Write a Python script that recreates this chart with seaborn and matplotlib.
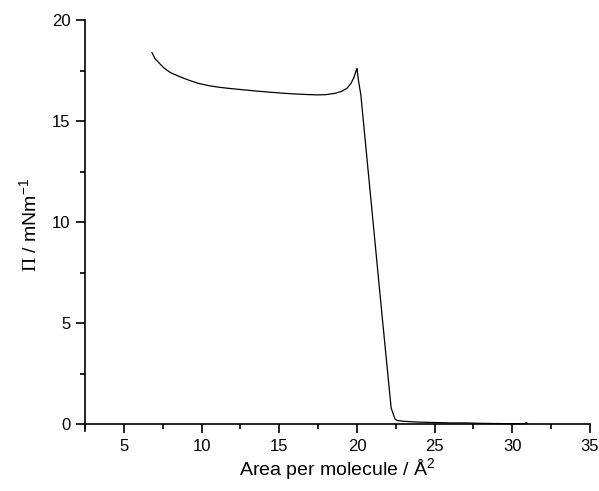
import matplotlib
matplotlib.use("Agg")
import matplotlib.pyplot as plt
from matplotlib.ticker import MultipleLocator
import pandas as pd
import seaborn as sns

# Surface pressure isotherm: area per molecule (Å^2) vs surface pressure (mN/m)
area = [6.8, 7.0, 7.3, 7.6, 8.0, 8.6, 9.2, 9.8, 10.5, 11.2, 11.9, 12.7, 13.5,
        14.3, 15.1, 15.9, 16.7, 17.4, 18.0, 18.6, 19.0, 19.35, 19.6, 19.8,
        19.95, 20.0, 20.1, 20.25, 21.0, 21.6, 22.2, 22.45, 22.6, 23.0, 24.0,
        25.0, 26.0, 27.0, 28.0, 29.0, 30.0, 30.8, 30.9, 31.0]
pressure = [18.4, 18.1, 17.85, 17.62, 17.4, 17.2, 17.02, 16.87, 16.75, 16.67,
            16.61, 16.55, 16.49, 16.44, 16.39, 16.35, 16.32, 16.30, 16.31,
            16.38, 16.47, 16.62, 16.85, 17.15, 17.5, 17.6, 17.0, 16.3, 10.3,
            5.5, 0.8, 0.25, 0.18, 0.14, 0.10, 0.08, 0.06, 0.06, 0.04, 0.03,
            0.02, 0.02, 0.08, 0.02]

xticks = [5, 10, 15, 20, 25, 30, 35]
yticks = [0, 5, 10, 15, 20]

df = pd.DataFrame({"area": area, "pressure": pressure})

sns.set_style("ticks")
plt.rcParams["font.family"] = ["Liberation Sans", "DejaVu Sans"]
plt.rcParams["mathtext.fontset"] = "custom"
plt.rcParams["mathtext.rm"] = "Liberation Sans"
plt.rcParams["mathtext.sf"] = "Liberation Serif"
plt.rcParams["text.color"] = "black"
plt.rcParams["axes.labelcolor"] = "black"

fig = plt.figure(figsize=(5.99, 4.91), dpi=100)
ax = fig.add_axes([0.142, 0.123, 0.843, 0.836])

sns.lineplot(data=df, x="area", y="pressure", sort=False, color="black",
             linewidth=0.9, ax=ax)

ax.set_xlim(2.5, 35)
ax.set_ylim(-0.32, 20)
ax.spines["bottom"].set_position(("data", 0))
ax.spines["top"].set_visible(False)
ax.spines["right"].set_visible(False)
for s in ("left", "bottom"):
    ax.spines[s].set_linewidth(1.2)
    ax.spines[s].set_color("black")

ax.set_xticks(xticks)
ax.set_yticks(yticks)
ax.xaxis.set_minor_locator(MultipleLocator(2.5))
ax.yaxis.set_minor_locator(MultipleLocator(2.5))
ax.tick_params(which="major", direction="out", length=6.5, width=1.2,
               labelsize=12, pad=4, color="black", labelcolor="black")
ax.tick_params(which="minor", direction="out", length=3.5, width=1.2,
               color="black")

ax.set_xlabel("Area per molecule / Å$^{2}$", fontsize=14, labelpad=2)
ax.set_ylabel(r"$\mathsf{\Pi}$ / mNm$^{-1}$", fontsize=14, labelpad=8)

fig.savefig("out.png", dpi=100)
